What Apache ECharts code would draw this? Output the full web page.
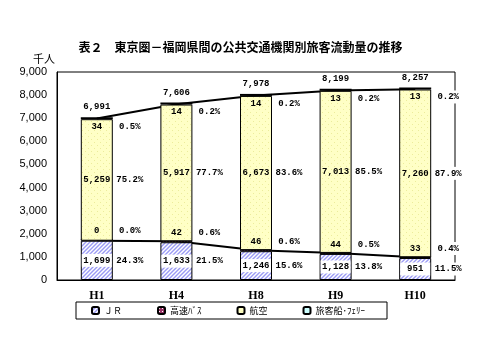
<!DOCTYPE html>
<html><head><meta charset="utf-8">
<script src="https://cdn.jsdelivr.net/npm/echarts@6/dist/echarts.min.js"></script>
<style>html,body{margin:0;padding:0;background:#fff}#c{width:481px;height:356px}</style>
</head><body><div id="c"></div>
<script>
const titleText = '表２　東京圏－福岡県間の公共交通機関別旅客流動量の推移';
const unitText = '千人';
const categories = ['H1', 'H4', 'H8', 'H9', 'H10'];
const seriesNames = ['ＪＲ', '高速ﾊﾞｽ', '航空', '旅客船･ﾌｪﾘｰ'];
const jr = [1699, 1633, 1246, 1128, 951];
const bus = [0, 42, 46, 44, 33];
const air = [5259, 5917, 6673, 7013, 7260];
const ferry = [34, 14, 14, 13, 13];
const totals = [6991, 7606, 7978, 8199, 8257];
const jrPct = ['24.3%', '21.5%', '15.6%', '13.8%', '11.5%'];
const busPct = ['0.0%', '0.6%', '0.6%', '0.5%', '0.4%'];
const airPct = ['75.2%', '77.7%', '83.6%', '85.5%', '87.9%'];
const ferryPct = ['0.5%', '0.2%', '0.2%', '0.2%', '0.2%'];
const yMin = 0, yMax = 9000, yStep = 1000;

const fmt = n => n.toLocaleString('en-US');
const lowerLine = jr.map((v, i) => v + bus[i]);
const upperLine = jr.map((v, i) => v + bus[i] + air[i] + ferry[i]);

function pattern(w, h, draw) {
  const c = document.createElement('canvas');
  c.width = w; c.height = h;
  const ctx = c.getContext('2d');
  draw(ctx);
  return { image: c, repeat: 'repeat' };
}
const jrFill = pattern(4, 4, ctx => {
  ctx.fillStyle = '#fff'; ctx.fillRect(0, 0, 4, 4);
  ctx.strokeStyle = '#9a9af4'; ctx.lineWidth = 1.4;
  ctx.beginPath();
  ctx.moveTo(-1, 5); ctx.lineTo(5, -1);
  ctx.moveTo(-1, 1); ctx.lineTo(1, -1);
  ctx.moveTo(3, 5); ctx.lineTo(5, 3);
  ctx.stroke();
});
const airFill = pattern(6, 6, ctx => {
  ctx.fillStyle = '#ffffc6'; ctx.fillRect(0, 0, 6, 6);
  ctx.fillStyle = '#ecec9c';
  ctx.fillRect(1, 1, 1, 1); ctx.fillRect(4, 4, 1, 1);
});
const busFill = pattern(3, 3, ctx => {
  ctx.fillStyle = '#993366'; ctx.fillRect(0, 0, 3, 3);
  ctx.fillStyle = '#fff'; ctx.fillRect(1, 1, 1, 1);
});

const labelFont = { fontFamily: 'Liberation Mono', fontSize: 9, fontWeight: 'bold', color: '#000' };
function makeLabel(values, pcts, position, bg) {
  return {
    show: true, position, distance: 1, offset: [16, 0],
    formatter: p => `{v|${fmt(values[p.dataIndex])}}{g|}{p|${pcts[p.dataIndex]}}`,
    rich: {
      v: Object.assign({ width: 30, height: 13, lineHeight: 13, align: 'center', backgroundColor: bg || 'transparent' }, labelFont),
      p: Object.assign({ width: 28, height: 11, lineHeight: 11, align: 'left', backgroundColor: '#fff', padding: [1, 0, 1, 0] }, labelFont),
      g: { width: 4 }
    }
  };
}

const barBase = { type: 'bar', stack: 'total', barWidth: 32, z: 3 };
const chart = echarts.init(document.getElementById('c'), null, { renderer: 'canvas' });
chart.setOption({
  animation: false,
  backgroundColor: '#fff',
  title: [
    { text: titleText, left: 'center', top: 41, padding: 0, textStyle: { fontFamily: 'Noto Sans CJK JP', fontSize: 12, fontWeight: 'bold', color: '#000' } },
    { text: unitText, left: 33, top: 53, padding: 0, textStyle: { fontFamily: 'Noto Sans CJK JP', fontSize: 11, fontWeight: 'normal', color: '#000' } }
  ],
  legend: {
    left: 76, top: 302, orient: 'horizontal',
    padding: [4, 22, 4, 15], itemGap: 35, itemWidth: 7, itemHeight: 7,
    borderColor: '#000', borderWidth: 1,
    data: seriesNames,
    textStyle: { fontFamily: 'Noto Sans CJK JP', fontSize: 9, color: '#000' }
  },
  grid: { left: 57, right: 26, top: 72, bottom: 76, show: true, borderColor: '#000', borderWidth: 1, backgroundColor: '#fff' },
  xAxis: {
    type: 'category', data: categories,
    axisLine: { lineStyle: { color: '#000', width: 1 } },
    axisTick: { inside: true, length: 4, lineStyle: { color: '#000' } },
    axisLabel: { fontFamily: 'Liberation Serif', fontSize: 12, fontWeight: 'bold', color: '#000', margin: 10 }
  },
  yAxis: {
    type: 'value', min: yMin, max: yMax, interval: yStep,
    axisLine: { show: true, lineStyle: { color: '#000' } },
    axisTick: { show: false },
    splitLine: { show: false },
    axisLabel: { formatter: v => fmt(v), fontFamily: 'Liberation Sans', fontSize: 11, color: '#000', margin: 10 }
  },
  series: [
    Object.assign({}, barBase, { name: seriesNames[0], data: jr, itemStyle: { color: jrFill, borderColor: '#000', borderWidth: 1 }, label: makeLabel(jr, jrPct, 'inside', '#fff') }),
    Object.assign({}, barBase, { name: seriesNames[1], data: bus, barMinHeight: 2, itemStyle: { color: busFill, borderColor: '#000', borderWidth: 1 }, label: makeLabel(bus, busPct, 'top') }),
    Object.assign({}, barBase, { name: seriesNames[2], data: air, itemStyle: { color: airFill, borderColor: '#000', borderWidth: 1 }, label: makeLabel(air, airPct, 'inside') }),
    Object.assign({}, barBase, { name: seriesNames[3], data: ferry, barMinHeight: 2, itemStyle: { color: '#ccffff', borderColor: '#000', borderWidth: 1.5 }, label: makeLabel(ferry, ferryPct, 'bottom') }),
    { type: 'line', name: 'lower', data: lowerLine, z: 1, symbol: 'none', lineStyle: { color: '#000', width: 2 }, silent: true },
    { type: 'line', name: 'upper', data: upperLine, z: 1, symbol: 'circle', symbolSize: 0.1, showSymbol: true,
      itemStyle: { color: '#000' }, lineStyle: { color: '#000', width: 2 }, silent: true,
      label: { show: true, position: 'top', distance: 7, formatter: p => fmt(totals[p.dataIndex]), fontFamily: 'Liberation Mono', fontSize: 9, fontWeight: 'bold', color: '#000' } }
  ]
});
</script></body></html>
